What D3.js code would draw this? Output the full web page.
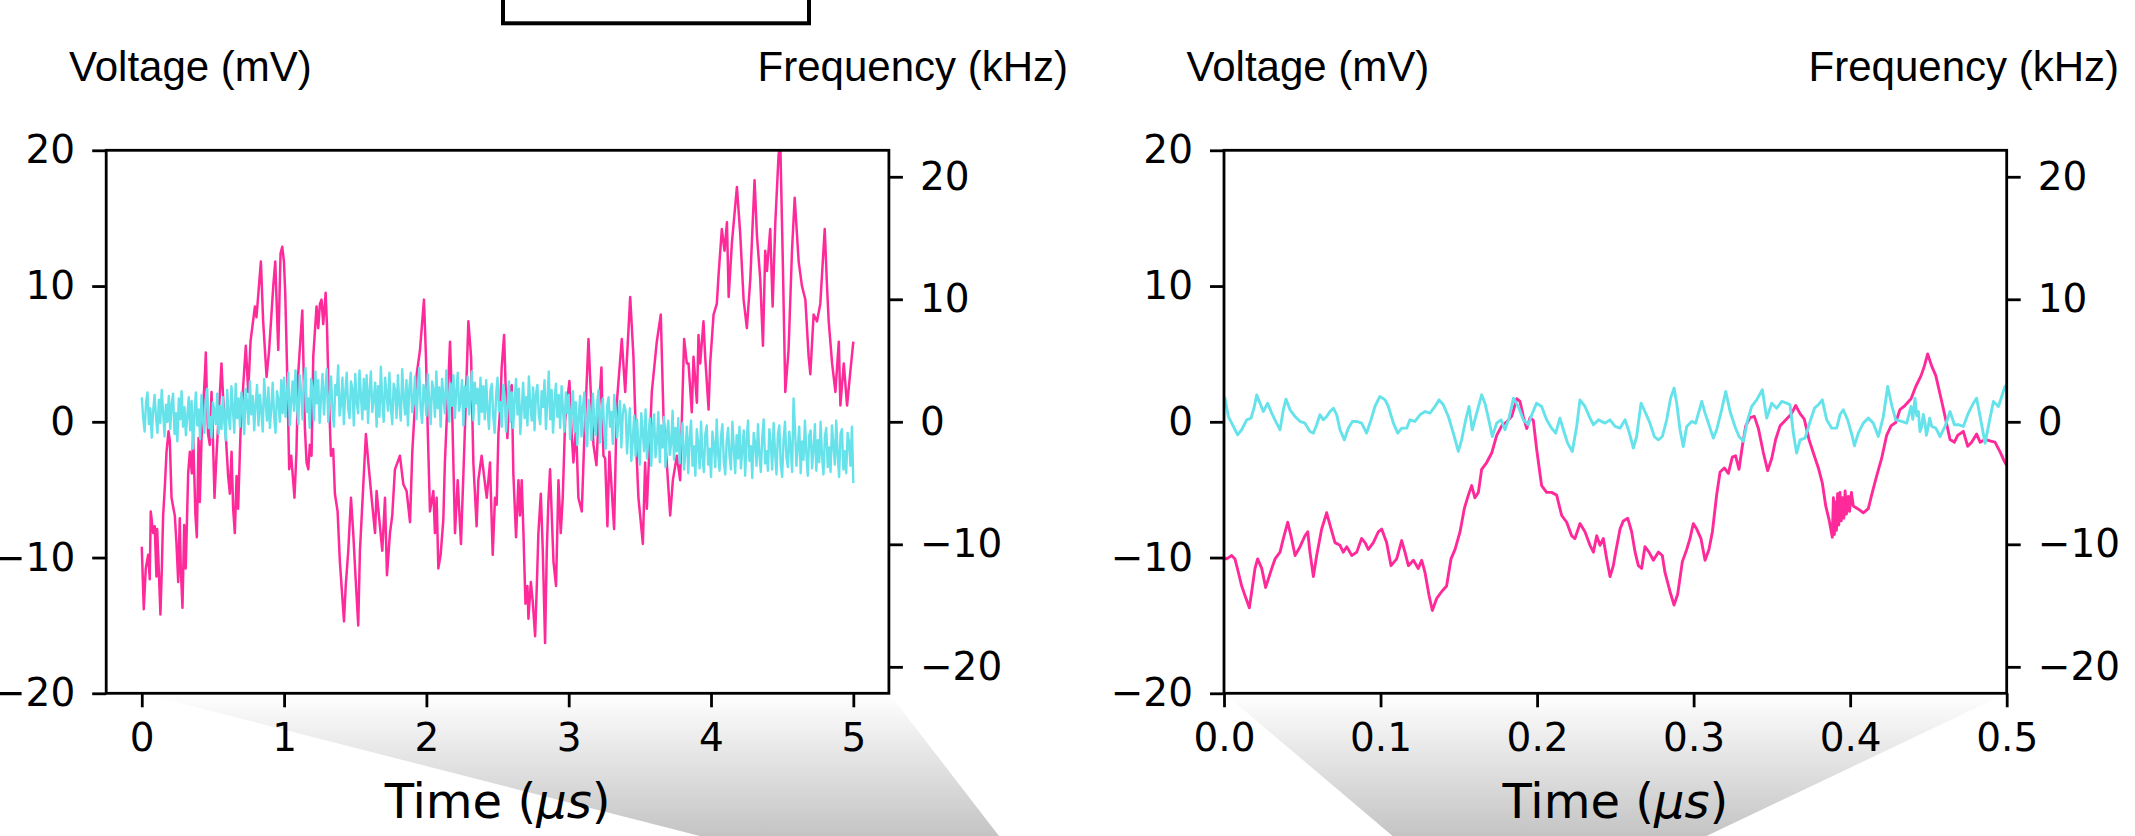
<!DOCTYPE html>
<html>
<head>
<meta charset="utf-8">
<script src="https://cdn.jsdelivr.net/npm/d3@7"></script>
<style>
  body { margin: 0; background: #fff; }
  svg { display: block; }
</style>
</head>
<body>
<div id="chart"></div>
<script>
// ---- data ----
const overviewTicks = [0, 1, 2, 3, 4, 5];
const detailTicks = [0, 0.1, 0.2, 0.3, 0.4, 0.5];
const voltTicks = [-20, -10, 0, 10, 20];
const freqTicks = [-20, -10, 0, 10, 20];

// left panel, voltage (mV) vs time (us)
const overviewVoltage = [
  [0.000,-9.2],[0.014,-13.8],[0.028,-10.8],[0.045,-9.8],[0.056,-11.6],[0.063,-6.6],[0.080,-8.2],[0.091,-7.7],
  [0.103,-11.4],[0.108,-7.9],[0.117,-10.2],[0.131,-14.2],[0.141,-10.8],[0.150,-6.9],[0.162,-4.8],[0.174,-2.2],
  [0.188,-0.7],[0.197,-1.4],[0.209,-5.6],[0.232,-6.9],[0.244,-9.0],[0.256,-11.8],[0.267,-7.1],[0.274,-10.8],
  [0.286,-13.7],[0.298,-7.6],[0.309,-10.8],[0.326,-3.8],[0.338,-2.2],[0.352,-3.8],[0.361,-0.9],[0.377,-6.9],
  [0.387,-8.5],[0.399,-1.2],[0.408,-5.9],[0.420,-1.2],[0.445,3.8],[0.450,5.1],[0.459,1.2],[0.466,-0.9],
  [0.478,-1.7],[0.490,2.2],[0.502,-2.0],[0.511,-5.6],[0.525,-2.5],[0.560,4.3],[0.572,1.7],[0.584,0.1],
  [0.607,-4.0],[0.619,-5.3],[0.631,-2.2],[0.642,-6.4],[0.654,-8.2],[0.666,-4.0],[0.677,-6.4],[0.694,-0.7],
  [0.713,2.7],[0.731,5.6],[0.748,2.2],[0.764,5.9],[0.795,8.5],[0.806,7.7],[0.837,11.8],[0.853,7.4],
  [0.877,3.3],[0.895,5.3],[0.924,10.0],[0.938,11.8],[0.959,5.3],[0.975,12.4],[0.987,12.9],[0.999,11.8],
  [1.008,9.5],[1.022,3.5],[1.036,-3.5],[1.050,-2.5],[1.073,-5.6],[1.087,-2.2],[1.099,3.5],[1.128,8.2],
  [1.146,-0.4],[1.158,-3.0],[1.170,-3.5],[1.181,-1.7],[1.193,-2.5],[1.205,4.8],[1.228,8.5],[1.240,6.9],
  [1.252,8.7],[1.263,9.0],[1.275,7.2],[1.292,9.5],[1.301,7.2],[1.310,3.5],[1.329,-2.5],[1.345,-2.0],
  [1.357,-5.3],[1.376,-6.6],[1.392,-10.3],[1.421,-14.7],[1.433,-12.1],[1.451,-9.5],[1.470,-5.6],[1.486,-8.2],
  [1.503,-11.6],[1.521,-15.0],[1.533,-9.5],[1.552,-5.6],[1.575,-0.9],[1.592,-3.0],[1.615,-5.6],[1.639,-8.2],
  [1.650,-5.1],[1.690,-9.5],[1.709,-5.6],[1.723,-11.3],[1.744,-8.2],[1.760,-6.9],[1.779,-3.5],[1.814,-2.5],
  [1.838,-4.6],[1.861,-5.1],[1.885,-7.4],[1.901,-2.2],[1.932,3.5],[1.955,5.3],[1.983,9.0],[1.997,4.8],
  [2.009,-0.4],[2.025,-6.6],[2.049,-5.1],[2.060,-8.2],[2.072,-5.6],[2.084,-10.8],[2.100,-9.8],[2.119,-7.2],
  [2.130,-3.0],[2.166,5.9],[2.178,2.2],[2.201,-8.2],[2.220,-4.3],[2.243,-9.0],[2.267,-1.7],[2.295,7.4],
  [2.314,4.8],[2.330,-3.0],[2.353,-7.7],[2.365,-4.3],[2.388,-2.5],[2.424,-5.6],[2.447,-3.0],[2.454,-5.6],
  [2.466,-9.8],[2.482,-5.6],[2.494,-6.1],[2.506,-0.9],[2.518,0.9],[2.529,4.0],[2.546,6.4],[2.558,2.2],
  [2.569,-1.2],[2.583,2.2],[2.600,2.7],[2.611,-3.8],[2.630,-8.5],[2.647,-4.3],[2.658,-6.9],[2.670,-4.3],
  [2.682,-8.2],[2.696,-13.4],[2.710,-12.1],[2.717,-14.5],[2.734,-11.8],[2.747,-13.2],[2.764,-15.8],[2.776,-12.1],
  [2.787,-8.2],[2.804,-5.3],[2.818,-9.5],[2.834,-16.3],[2.846,-9.5],[2.857,-5.9],[2.869,-3.5],[2.881,-6.9],
  [2.893,-10.3],[2.911,-12.1],[2.928,-4.3],[2.944,-8.2],[2.958,-5.6],[2.975,0.1],[3.005,3.0],[3.021,-0.9],
  [3.033,-3.0],[3.052,-0.4],[3.068,-5.6],[3.092,-6.6],[3.108,-1.7],[3.139,6.1],[3.155,2.2],[3.174,-1.7],
  [3.195,-3.2],[3.212,0.8],[3.230,4.0],[3.244,-2.5],[3.256,-2.7],[3.272,-7.7],[3.286,-2.2],[3.319,-7.9],
  [3.338,1.4],[3.373,6.1],[3.397,2.2],[3.432,9.2],[3.455,4.8],[3.474,-1.7],[3.490,-5.6],[3.502,-6.9],
  [3.521,-9.0],[3.537,-3.0],[3.549,-6.4],[3.584,2.2],[3.619,5.9],[3.647,7.9],[3.666,0.4],[3.689,-3.0],
  [3.713,-6.9],[3.732,-4.3],[3.760,-2.5],[3.783,-4.3],[3.811,6.1],[3.830,4.3],[3.842,4.3],[3.865,0.7],
  [3.877,4.8],[3.901,1.4],[3.912,6.4],[3.924,4.3],[3.947,7.4],[3.959,4.8],[3.983,0.9],[3.994,4.3],
  [4.018,7.9],[4.041,8.7],[4.053,10.8],[4.076,14.2],[4.095,12.6],[4.112,14.7],[4.124,9.2],[4.147,13.2],
  [4.182,17.3],[4.205,13.9],[4.229,9.0],[4.252,6.9],[4.276,10.5],[4.306,17.8],[4.323,13.7],[4.346,10.5],
  [4.365,5.6],[4.381,12.6],[4.393,11.1],[4.416,14.2],[4.433,8.5],[4.452,14.7],[4.475,19.7],[4.487,20.4],
  [4.503,12.6],[4.522,2.2],[4.545,5.3],[4.569,12.6],[4.588,16.5],[4.616,11.8],[4.639,10.0],[4.663,9.0],
  [4.686,4.8],[4.698,3.5],[4.721,7.9],[4.745,7.4],[4.768,8.7],[4.799,14.2],[4.815,10.0],[4.827,7.4],
  [4.851,4.3],[4.874,2.2],[4.898,5.9],[4.909,1.2],[4.933,4.3],[4.956,1.2],[4.980,3.8],[5.000,5.9]
];

// left panel, frequency (kHz), one sample every 0.01 us from t = 0
const overviewFreqStep = 0.01;
const overviewFreq = [
  2.0,0.3,-0.8,1.6,2.4,-0.2,1.1,-1.3,0.9,2.2,0.4,-0.9,1.8,-0.1,2.6,0.8,-1.2,1.4,0.0,2.1,
  -0.6,1.5,2.3,-1.0,0.7,-1.6,1.9,0.2,2.5,-0.4,1.2,-1.1,0.5,2.0,-0.7,1.7,-2.2,0.6,2.4,-0.3,
  1.0,-1.4,2.2,0.1,-0.9,1.8,2.7,-0.5,0.4,-1.3,1.6,0.9,-0.2,2.3,-1.0,1.3,-0.6,2.0,0.2,-1.5,
  2.6,0.5,-0.6,2.9,1.2,-0.9,3.1,0.3,1.9,-0.4,2.4,0.8,-1.0,2.7,1.5,-0.2,3.3,0.6,2.1,-0.7,
  1.4,3.0,-0.3,2.2,0.9,-0.8,3.5,1.6,0.1,2.8,-0.5,1.1,3.2,0.4,-0.9,2.5,1.8,0.0,3.4,0.7,
  3.6,0.4,2.2,4.0,-0.3,1.7,3.3,0.9,4.2,1.3,-0.2,3.8,2.5,0.2,3.1,4.4,0.8,1.9,-0.5,3.5,
  2.8,0.1,4.1,1.5,3.4,-0.1,2.0,3.9,0.6,2.6,4.3,0.0,1.8,3.7,0.9,-0.4,3.0,2.2,4.6,0.5,
  1.4,3.6,-0.2,2.4,4.0,1.1,0.3,3.3,2.7,-0.3,3.9,1.6,0.7,4.2,2.1,0.2,3.5,1.0,3.8,-0.1,
  2.5,4.1,0.8,1.9,3.2,-0.4,2.9,0.4,4.5,1.7,0.0,3.6,2.3,0.9,4.0,1.2,-0.2,3.1,2.6,0.3,
  3.8,1.4,0.1,4.3,2.0,0.6,3.4,-0.3,2.7,4.0,0.8,1.5,3.7,0.2,2.4,4.4,1.0,-0.1,3.0,2.2,
  0.5,3.9,1.6,-0.2,3.3,2.6,0.4,4.1,1.1,2.8,-0.4,3.5,1.9,0.7,4.2,2.3,0.0,3.1,1.3,3.8,
  0.3,2.5,4.0,0.9,1.7,3.4,-0.3,2.9,1.2,3.7,0.6,2.0,4.1,0.1,3.2,1.5,2.7,-0.2,3.6,0.8,
  2.9,0.2,3.4,1.0,-0.6,2.6,3.1,0.4,-0.9,2.2,3.6,0.9,1.6,-0.4,3.0,2.1,-0.8,1.3,3.3,0.0,
  2.4,-0.5,1.8,3.5,0.6,2.7,-1.0,1.1,3.2,0.3,2.0,-0.3,3.7,1.4,0.1,2.8,-0.7,2.3,3.0,0.5,
  -0.2,2.5,1.2,3.4,-0.6,1.7,4.1,0.2,2.6,-0.9,1.5,3.1,0.4,2.2,-0.5,2.9,1.0,-0.8,2.4,0.7,
  2.2,-1.4,0.9,2.5,-0.8,1.6,-1.9,0.3,2.1,-1.2,1.2,2.4,-0.6,-2.0,1.8,0.5,-1.5,2.3,0.0,-1.1,
  1.5,2.6,-1.7,0.7,1.9,-0.9,-2.2,1.3,2.0,-0.4,0.8,-1.8,2.2,1.0,-1.3,0.2,1.7,-2.1,0.6,1.4,
  0.9,-2.6,-0.4,1.1,-3.2,-1.5,0.5,-2.8,0.2,-1.9,-3.5,0.7,-0.8,-2.4,1.0,-3.0,-1.2,0.3,-3.6,-0.6,
  0.6,-2.9,-1.6,0.8,-3.3,-0.3,-2.1,0.4,-3.7,-1.0,0.1,-2.7,-1.8,0.9,-3.1,-0.5,-2.4,0.3,-3.4,-1.3,
  -0.1,-3.9,-2.5,-0.4,-4.2,-1.3,0.1,-3.6,-2.0,-4.4,-0.6,-1.8,-3.8,0.0,-2.9,-4.1,-1.0,-0.3,-3.5,-2.2,
  -4.5,-0.8,-1.9,-3.7,0.2,-2.6,-4.0,-1.2,-0.2,-3.3,-4.3,-1.6,-0.5,-2.8,-3.9,0.0,-2.1,-4.2,-1.1,-3.0,
  -0.4,-3.8,-2.3,-0.7,-4.4,-1.5,0.1,-3.2,-2.0,-4.6,-0.9,-1.7,-3.6,-0.2,-2.7,-4.1,-1.3,0.2,-3.4,-2.4,
  -4.0,-0.6,-1.8,-3.9,-0.1,-2.5,-4.3,-1.0,-0.3,-3.5,-4.5,-1.4,0.0,-2.9,-3.7,-0.8,-2.2,-4.1,1.9,-0.5,
  -3.6,-2.0,-0.4,-4.2,-1.6,-3.1,0.1,-2.6,-4.4,-1.1,-0.7,-3.8,-2.3,-0.2,-4.0,-1.5,-3.3,0.0,-2.8,-4.3,
  -1.2,-0.5,-3.7,-2.1,-4.1,-0.3,-1.9,-3.5,0.1,-2.7,-4.5,-1.0,-0.6,-3.9,-2.4,-4.2,-0.9,-1.7,-3.6,-0.4,
  -5.0
];

// right panel, voltage (mV) vs time (us)
const detailVoltage = [
  [0.0000,-10.0],[0.0017,-10.1],[0.0049,-9.85],[0.0070,-10.1],[0.0092,-11.1],[0.0113,-12.1],[0.0134,-12.8],
  [0.0162,-13.7],[0.0177,-12.5],[0.0198,-10.8],[0.0215,-10.1],[0.0241,-10.8],[0.0266,-12.2],[0.0283,-11.6],
  [0.0305,-10.8],[0.0326,-10.1],[0.0358,-9.6],[0.0379,-8.6],[0.0407,-7.4],[0.0428,-8.4],[0.0454,-9.85],
  [0.0486,-9.2],[0.0517,-8.4],[0.0535,-8.1],[0.0549,-9.6],[0.0571,-11.4],[0.0592,-9.85],[0.0624,-7.9],
  [0.0656,-6.7],[0.0677,-7.6],[0.0709,-8.9],[0.0741,-9.1],[0.0762,-9.6],[0.0784,-9.2],[0.0816,-9.85],
  [0.0848,-9.6],[0.0879,-8.6],[0.0901,-8.9],[0.0922,-9.4],[0.0954,-8.9],[0.0986,-8.1],[0.1007,-7.9],
  [0.1039,-8.9],[0.1067,-10.6],[0.1103,-10.1],[0.1135,-8.75],[0.1156,-9.6],[0.1178,-10.6],[0.1210,-10.2],
  [0.1241,-10.8],[0.1263,-10.2],[0.1284,-11.1],[0.1310,-12.8],[0.1331,-13.9],[0.1359,-13.0],[0.1391,-12.5],
  [0.1422,-12.1],[0.1450,-10.1],[0.1476,-9.4],[0.1508,-8.1],[0.1535,-6.4],[0.1561,-5.4],[0.1582,-4.7],
  [0.1603,-5.6],[0.1625,-5.2],[0.1646,-3.5],[0.1678,-3.0],[0.1710,-2.3],[0.1742,-1.0],[0.1774,-0.3],
  [0.1806,0.0],[0.1838,0.4],[0.1870,1.7],[0.1891,1.5],[0.1912,0.4],[0.1934,-0.5],[0.1955,0.3],
  [0.1976,0.1],[0.1997,-2.0],[0.2029,-4.7],[0.2061,-5.2],[0.2093,-5.2],[0.2125,-5.4],[0.2157,-6.9],
  [0.2189,-7.4],[0.2221,-8.4],[0.2242,-8.6],[0.2274,-7.5],[0.2306,-8.1],[0.2338,-9.1],[0.2360,-9.6],
  [0.2381,-8.4],[0.2402,-9.1],[0.2423,-8.6],[0.2445,-10.1],[0.2466,-11.4],[0.2487,-10.6],[0.2498,-9.85],
  [0.2530,-7.9],[0.2551,-7.3],[0.2579,-7.1],[0.2604,-8.1],[0.2626,-9.6],[0.2647,-10.6],[0.2668,-10.8],
  [0.2689,-9.2],[0.2715,-9.6],[0.2743,-10.2],[0.2775,-9.6],[0.2800,-9.85],[0.2817,-11.1],[0.2849,-12.5],
  [0.2875,-13.5],[0.2898,-12.7],[0.2928,-10.3],[0.2956,-9.4],[0.2977,-8.6],[0.2998,-7.5],[0.3020,-7.9],
  [0.3047,-8.6],[0.3073,-10.2],[0.3098,-9.4],[0.3120,-8.1],[0.3147,-5.4],[0.3169,-3.7],[0.3196,-3.4],
  [0.3222,-3.8],[0.3247,-2.6],[0.3268,-2.5],[0.3290,-3.5],[0.3311,-1.8],[0.3333,-0.3],[0.3360,0.3],
  [0.3388,0.4],[0.3414,-0.5],[0.3446,-2.3],[0.3473,-3.6],[0.3499,-2.7],[0.3524,-1.3],[0.3552,-0.3],
  [0.3594,0.2],[0.3626,0.6],[0.3652,1.2],[0.3680,0.6],[0.3707,0.2],[0.3737,-1.3],[0.3765,-2.3],
  [0.3797,-3.4],[0.3822,-4.5],[0.3844,-6.2],[0.3865,-7.2],[0.3886,-8.5],[0.3893,-5.6],[0.3899,-8.3],
  [0.3906,-5.9],[0.3912,-8.0],[0.3920,-5.3],[0.3927,-7.6],[0.3935,-5.2],[0.3943,-7.3],[0.3952,-5.6],
  [0.3960,-7.1],[0.3968,-5.1],[0.3976,-6.8],[0.3988,-5.5],[0.3996,-6.6],[0.4008,-5.2],[0.4020,-6.2],
  [0.4048,-6.4],[0.4084,-6.7],[0.4116,-6.4],[0.4137,-5.4],[0.4169,-4.0],[0.4201,-2.7],[0.4233,-1.0],
  [0.4261,-0.3],[0.4291,-0.05],[0.4318,0.9],[0.4350,1.2],[0.4389,1.7],[0.4419,2.6],[0.4453,3.4],
  [0.4474,4.1],[0.4495,5.0],[0.4521,4.1],[0.4547,3.4],[0.4581,1.7],[0.4606,0.4],[0.4638,-1.3],
  [0.4666,-1.5],[0.4687,-1.0],[0.4723,-0.7],[0.4751,-1.8],[0.4776,-1.5],[0.4808,-0.9],[0.4830,-1.5],
  [0.4862,-1.3],[0.4893,-1.4],[0.4925,-1.5],[0.4957,-2.2],[0.4989,-3.0],[0.5000,-3.2]
];

// right panel, frequency (kHz) vs time (us)
const detailFreq = [
  [0.0000,2.0],[0.0006,1.93],[0.0028,0.43],[0.0060,-0.38],[0.0087,-1.06],[0.0113,-0.65],[0.0145,0.16],
  [0.0173,0.30],[0.0194,1.25],[0.0209,2.2],[0.0230,1.52],[0.0251,0.84],[0.0279,1.52],[0.0305,0.71],
  [0.0330,0.03],[0.0358,-0.65],[0.0379,0.98],[0.0396,1.85],[0.0422,0.98],[0.0454,0.43],[0.0486,0.03],
  [0.0517,-0.11],[0.0549,-0.79],[0.0571,-0.92],[0.0592,-0.24],[0.0613,0.57],[0.0635,0.16],[0.0656,0.43],
  [0.0677,0.84],[0.0699,1.11],[0.0720,0.57],[0.0741,-0.65],[0.0769,-1.47],[0.0794,-0.52],[0.0820,0.03],
  [0.0848,0.03],[0.0879,-0.11],[0.0911,-0.92],[0.0939,0.16],[0.0964,1.25],[0.0996,2.07],[0.1029,1.79],
  [0.1050,1.25],[0.1082,-0.11],[0.1110,-0.92],[0.1135,-0.52],[0.1167,-0.52],[0.1188,0.16],[0.1220,0.03],
  [0.1252,0.57],[0.1284,0.84],[0.1316,0.71],[0.1348,1.25],[0.1374,1.79],[0.1401,1.39],[0.1433,0.43],
  [0.1465,-0.92],[0.1497,-2.42],[0.1518,-1.47],[0.1544,0.16],[0.1565,1.25],[0.1586,-0.65],[0.1614,0.71],
  [0.1646,2.2],[0.1667,1.52],[0.1689,0.30],[0.1714,-1.2],[0.1742,-0.11],[0.1770,0.16],[0.1795,-0.65],
  [0.1821,0.30],[0.1849,1.93],[0.1880,1.25],[0.1912,0.16],[0.1944,-0.24],[0.1966,0.57],[0.1997,1.52],
  [0.2029,1.25],[0.2061,0.16],[0.2093,-0.52],[0.2119,-0.92],[0.2146,0.30],[0.2168,-0.65],[0.2195,-1.74],
  [0.2225,-2.42],[0.2253,-0.38],[0.2274,1.79],[0.2306,1.25],[0.2338,0.30],[0.2360,-0.24],[0.2392,0.16],
  [0.2434,-0.11],[0.2466,0.16],[0.2498,-0.38],[0.2530,-0.52],[0.2562,0.16],[0.2587,-0.79],[0.2615,-2.15],
  [0.2636,-1.2],[0.2664,1.52],[0.2689,0.84],[0.2721,-0.11],[0.2749,-1.2],[0.2775,-1.47],[0.2800,-1.2],
  [0.2828,0.16],[0.2853,1.93],[0.2875,2.75],[0.2892,1.52],[0.2913,-0.65],[0.2934,-2.01],[0.2956,-0.38],
  [0.2988,0.03],[0.3013,-0.11],[0.3052,1.66],[0.3073,0.71],[0.3098,-0.24],[0.3126,-1.33],[0.3147,-0.65],
  [0.3179,0.98],[0.3205,2.47],[0.3233,0.84],[0.3264,-0.38],[0.3290,-1.2],[0.3318,-1.6],[0.3345,0.16],
  [0.3371,1.25],[0.3403,1.79],[0.3439,2.61],[0.3467,0.30],[0.3499,1.52],[0.3531,1.11],[0.3563,1.66],
  [0.3594,1.52],[0.3616,1.39],[0.3637,-0.92],[0.3658,-2.55],[0.3680,-1.47],[0.3712,-1.33],[0.3744,0.03],
  [0.3772,1.11],[0.3797,1.39],[0.3822,1.79],[0.3850,0.16],[0.3882,-0.52],[0.3914,-0.52],[0.3935,0.57],
  [0.3956,0.98],[0.3984,0.16],[0.4014,-1.2],[0.4027,-1.96],[0.4052,-0.92],[0.4084,-0.11],[0.4116,0.30],
  [0.4148,-0.11],[0.4180,-1.2],[0.4212,0.43],[0.4240,2.88],[0.4265,1.39],[0.4291,0.16],[0.4329,0.03],
  [0.4361,-0.11],[0.4389,1.25],[0.4400,0.2],[0.4414,1.93],[0.4425,0.5],[0.4436,0.84],[0.4446,-0.8],
  [0.4457,-0.38],[0.4467,0.6],[0.4478,-0.11],[0.4487,-1.1],[0.4495,-0.65],[0.4508,0.3],[0.4521,-0.38],
  [0.4547,-0.52],[0.4574,-1.2],[0.4606,-0.38],[0.4638,0.84],[0.4666,-0.24],[0.4691,-0.24],[0.4723,-0.38],
  [0.4755,0.71],[0.4787,1.52],[0.4808,1.93],[0.4830,0.43],[0.4862,-1.74],[0.4887,-0.11],[0.4915,1.66],
  [0.4947,1.25],[0.4968,2.07],[0.4989,2.88],[0.5000,3.0]
];

// ---- layout ----
const W = 2135, H = 836;
const plotTop = 150.3, plotBottom = 693.3;
const magenta = '#ff2a9a', cyan = '#66e2eb';
const tickFont = "'DejaVu Sans', sans-serif";
const labelFont = "'Liberation Sans', Arial, sans-serif";

const panels = [
  { left: 106.2, right: 888.9, domain: [-0.25, 5.25], ticks: overviewTicks, fmt: d3.format('d'),
    volt: overviewVoltage, freq: overviewFreq.map((f, i) => [i * overviewFreqStep, f]),
    voltWidth: 2.5, freqWidth: 2.4,
    voltLabelX: 69, freqLabelEnd: 1068, fanBottom: [700, 999] },
  { left: 1224, right: 2006.7, domain: [0, 0.5], ticks: detailTicks, fmt: d3.format('.1f'),
    volt: detailVoltage, freq: detailFreq,
    voltWidth: 2.9, freqWidth: 2.9,
    voltLabelX: 1186.5, freqLabelEnd: 2119, fanBottom: [1392.6, 1706.5] }
];

const svg = d3.select('#chart').append('svg')
  .attr('width', W)
  .attr('height', H);

const defs = svg.append('defs');
const grad = defs.append('linearGradient')
  .attr('id', 'fade')
  .attr('gradientUnits', 'userSpaceOnUse')
  .attr('x1', 0).attr('y1', plotBottom)
  .attr('x2', 0).attr('y2', H);
grad.append('stop').attr('offset', 0).attr('stop-color', '#ffffff');
grad.append('stop').attr('offset', 1).attr('stop-color', '#c4c4c4');

// box at the top, only its lower part is in frame
svg.append('rect')
  .attr('x', 503).attr('y', -20)
  .attr('width', 306).attr('height', 43.3)
  .attr('fill', 'none')
  .attr('stroke', '#000')
  .attr('stroke-width', 4);

const yV = d3.scaleLinear().domain([-20, 20]).range([plotBottom, plotTop]);
const yF = d3.scaleLinear().domain([-22.16, 22.16]).range([plotBottom, plotTop]);

panels.forEach((p, k) => {
  const x = d3.scaleLinear().domain(p.domain).range([p.left, p.right]);

  // shaded zoom connector under the axes
  svg.append('polygon')
    .attr('points', [[x(0), plotBottom], [p.right, plotBottom], [p.fanBottom[1], H], [p.fanBottom[0], H]].join(' '))
    .attr('fill', 'url(#fade)');

  defs.append('clipPath').attr('id', 'clip' + k)
    .append('rect')
      .attr('x', p.left).attr('y', plotTop)
      .attr('width', p.right - p.left).attr('height', plotBottom - plotTop);

  const plot = svg.append('g').attr('clip-path', `url(#clip${k})`);

  plot.append('path')
    .datum(p.volt)
    .attr('fill', 'none')
    .attr('stroke', magenta)
    .attr('stroke-width', p.voltWidth)
    .attr('stroke-linejoin', 'round')
    .attr('d', d3.line().x(d => x(d[0])).y(d => yV(d[1])));

  plot.append('path')
    .datum(p.freq)
    .attr('fill', 'none')
    .attr('stroke', cyan)
    .attr('stroke-width', p.freqWidth)
    .attr('stroke-linejoin', 'round')
    .attr('d', d3.line().x(d => x(d[0])).y(d => yF(d[1])));

  // axes
  const styleAxis = g => {
    g.select('.domain').remove();
    g.attr('font-size', 39).attr('font-family', tickFont);
    g.selectAll('.tick line').attr('stroke-width', 2.8);
    g.selectAll('.tick text').attr('fill', '#000');
  };

  svg.append('g')
    .attr('transform', `translate(0,${plotBottom})`)
    .call(d3.axisBottom(x).tickValues(p.ticks).tickFormat(p.fmt).tickSize(14).tickSizeOuter(0).tickPadding(16))
    .call(styleAxis);

  svg.append('g')
    .attr('transform', `translate(${p.left},0)`)
    .call(d3.axisLeft(yV).tickValues(voltTicks).tickFormat(d3.format('d')).tickSize(14).tickSizeOuter(0).tickPadding(17))
    .call(styleAxis);

  svg.append('g')
    .attr('transform', `translate(${p.right},0)`)
    .call(d3.axisRight(yF).tickValues(freqTicks).tickFormat(d3.format('d')).tickSize(14).tickSizeOuter(0).tickPadding(17))
    .call(styleAxis);

  // frame
  svg.append('rect')
    .attr('x', p.left).attr('y', plotTop)
    .attr('width', p.right - p.left).attr('height', plotBottom - plotTop)
    .attr('fill', 'none')
    .attr('stroke', '#000')
    .attr('stroke-width', 2.8);

  // labels
  svg.append('text')
    .attr('x', p.voltLabelX).attr('y', 80.5)
    .attr('font-family', labelFont).attr('font-size', 42)
    .text('Voltage (mV)');

  svg.append('text')
    .attr('x', p.freqLabelEnd).attr('y', 80.5)
    .attr('text-anchor', 'end')
    .attr('font-family', labelFont).attr('font-size', 42)
    .text('Frequency (kHz)');

  const xl = svg.append('text')
    .attr('x', (p.left + p.right) / 2).attr('y', 818)
    .attr('text-anchor', 'middle')
    .attr('font-family', tickFont).attr('font-size', 48);
  xl.append('tspan').text('Time (');
  xl.append('tspan').attr('font-style', 'italic').text('μs');
  xl.append('tspan').text(')');
});
</script>
</body>
</html>
